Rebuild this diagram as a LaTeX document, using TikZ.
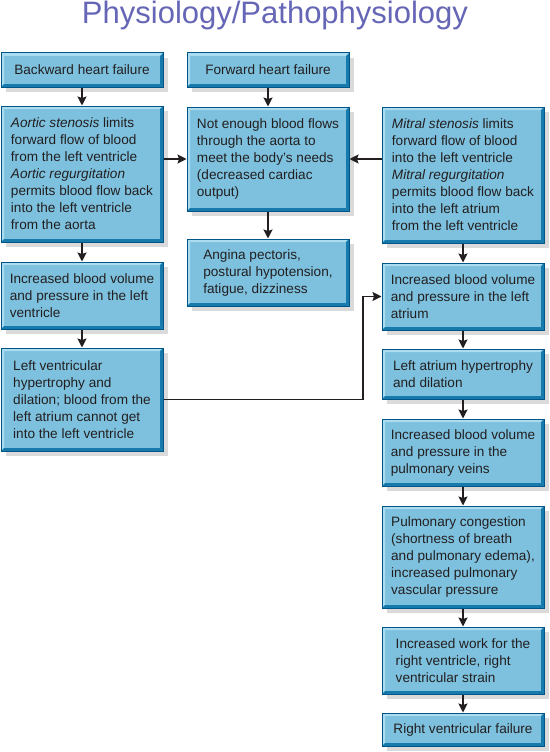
\documentclass[tikz,border=0pt]{standalone}
\usepackage{fontspec}
\setmainfont{Liberation Sans}
\usetikzlibrary{arrows.meta,shadows}
\definecolor{boxfill}{RGB}{125,193,222}
\definecolor{bdr}{RGB}{0,85,135}
\definecolor{bevlight}{RGB}{172,220,240}
\definecolor{bevdark}{RGB}{22,122,172}
\definecolor{shadowc}{RGB}{218,218,218}
\definecolor{txt}{RGB}{35,31,32}
\definecolor{titlec}{RGB}{102,102,182}
\tikzset{
  bevel/.style={path picture={
    \fill[bevlight] (path picture bounding box.north west) -- (path picture bounding box.north east)
      -- ([shift={(-3pt,-3pt)}]path picture bounding box.north east) -- ([shift={(3pt,-3pt)}]path picture bounding box.north west) -- cycle;
    \fill[bevlight] (path picture bounding box.north west) -- (path picture bounding box.south west)
      -- ([shift={(3pt,3pt)}]path picture bounding box.south west) -- ([shift={(3pt,-3pt)}]path picture bounding box.north west) -- cycle;
    \fill[bevdark] (path picture bounding box.north east) -- (path picture bounding box.south east)
      -- ([shift={(-3pt,3pt)}]path picture bounding box.south east) -- ([shift={(-3pt,-3pt)}]path picture bounding box.north east) -- cycle;
    \fill[bevdark] (path picture bounding box.south west) -- (path picture bounding box.south east)
      -- ([shift={(-3pt,3pt)}]path picture bounding box.south east) -- ([shift={(3pt,3pt)}]path picture bounding box.south west) -- cycle;
  }},
  bx/.style={draw=bdr, line width=1pt, fill=boxfill, bevel, align=left,
    minimum width=162pt, inner sep=0pt, text=txt,
    font=\fontsize{13.6}{17}\selectfont,
    general shadow={fill=shadowc, shadow xshift=5pt, shadow yshift=-5pt}},
  arr/.style={-{Stealth[length=9pt,width=9pt,inset=1.5pt]}, line width=1.6pt, draw=txt},
  ttl/.style={text=titlec, font=\fontsize{31}{36}\selectfont, inner sep=0pt}
}
\begin{document}
\begin{tikzpicture}[x={(1pt,0)}, y={(0,-1pt)}]
\useasboundingbox (0,0) rectangle (549,752);
\node[ttl, anchor=base] (title) at (275,24) {Physiology/Pathophysiology};
% left column
\node[bx, minimum height=34pt] (B1) at (82,70) {Backward heart failure};
\node[bx, minimum height=136pt] (B2) at (82,174) {\textit{Aortic stenosis} limits\\forward flow of blood\\from the left ventricle\\\textit{Aortic regurgitation}\\permits blood flow back\\into the left ventricle\\from the aorta};
\node[bx, minimum height=67pt] (B3) at (82,295.5) {Increased blood volume\\and pressure in the left\\ventricle};
\node[bx, minimum height=103pt] (B4) at (82,399.5) {Left ventricular\\hypertrophy and\\dilation; blood from the\\left atrium cannot get\\into the left ventricle};
% middle column
\node[bx, minimum height=34pt] (M1) at (268,70) {Forward heart failure};
\node[bx, minimum height=104pt] (M2) at (268,159) {Not enough blood flows\\through the aorta to\\meet the body’s needs\\(decreased cardiac\\output)};
\node[bx, minimum height=67pt] (M3) at (268,272.5) {Angina pectoris,\\postural hypotension,\\fatigue, dizziness};
% right column
\node[bx, minimum height=136pt] (R1) at (463,175) {\textit{Mitral stenosis} limits\\forward flow of blood\\into the left ventricle\\\textit{Mitral regurgitation}\\permits blood flow back\\into the left atrium\\from the left ventricle};
\node[bx, minimum height=67pt] (R2) at (463,296.5) {Increased blood volume\\and pressure in the left\\atrium};
\node[bx, minimum height=50pt] (R3) at (463,374) {Left atrium hypertrophy\\and dilation};
\node[bx, minimum height=67pt] (R4) at (463,452.5) {Increased blood volume\\and pressure in the\\pulmonary veins};
\node[bx, minimum height=102pt] (R5) at (463,557) {Pulmonary congestion\\(shortness of breath\\and pulmonary edema),\\increased pulmonary\\vascular pressure};
\node[bx, minimum height=67pt] (R6) at (463,660.5) {Increased work for the\\right ventricle, right\\ventricular strain};
\node[bx, minimum height=33pt] (R7) at (463,729.5) {Right ventricular failure};
% connectors
\draw[arr] (B1) -- (B2);
\draw[arr] (B2) -- (B3);
\draw[arr] (B3) -- (B4);
\draw[arr] (M1) -- (M2);
\draw[arr] (M2) -- (M3);
\draw[arr] (B2.east |- M2.west) -- (M2.west);
\draw[arr] (R1.west |- M2.east) -- (M2.east);
\draw[arr] (R1) -- (R2);
\draw[arr] (R2) -- (R3);
\draw[arr] (R3) -- (R4);
\draw[arr] (R4) -- (R5);
\draw[arr] (R5) -- (R6);
\draw[arr] (R6) -- (R7);
\coordinate (J) at (363,0);
\draw[arr] (B4.east) -| (J |- R2.west) -- (R2.west);
\end{tikzpicture}
\end{document}
